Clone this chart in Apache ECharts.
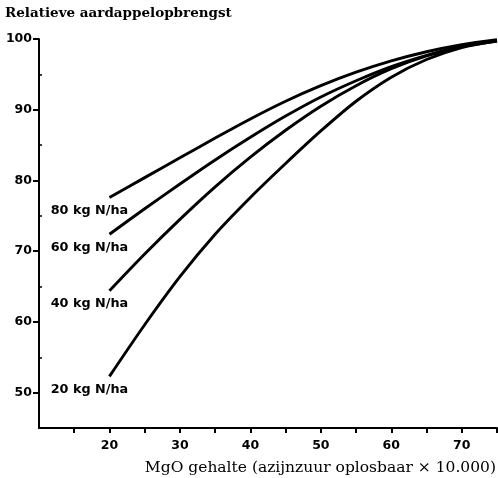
<!DOCTYPE html>
<html>
<head>
<meta charset="utf-8">
<script src="https://cdn.jsdelivr.net/npm/echarts@6/dist/echarts.min.js"></script>
<style>
html,body{margin:0;padding:0;background:#fff;}
#chart{width:498px;height:478px;}
</style>
</head>
<body>
<div id="chart"></div>
<script>
var titleText = 'Relatieve aardappelopbrengst';
var xAxisTitle = 'MgO gehalte (azijnzuur oplosbaar \u00d7 10.000)';
var xs = [20, 25, 30, 35, 40, 45, 50, 55, 60, 65, 70, 75];
var n80 = [77.6, 80.4, 83.2, 86.0, 88.7, 91.2, 93.4, 95.3, 96.9, 98.2, 99.2, 99.9];
var n60 = [72.4, 76.0, 79.5, 82.9, 86.1, 89.1, 91.8, 94.1, 96.1, 97.7, 99.0, 99.8];
var n40 = [64.4, 69.6, 74.5, 79.1, 83.3, 87.1, 90.5, 93.4, 95.8, 97.6, 98.9, 99.7];
var n20 = [52.3, 59.6, 66.4, 72.4, 77.6, 82.4, 87.0, 91.2, 94.6, 97.1, 98.8, 99.7];
var seriesNames = ['80 kg N/ha', '60 kg N/ha', '40 kg N/ha', '20 kg N/ha'];
var seriesValues = [n80, n60, n40, n20];
var yMajorTicks = [50, 60, 70, 80, 90, 100];
var yMinorTicks = [55, 65, 75, 85, 95];
var xTicks = [15, 20, 25, 30, 35, 40, 45, 50, 55, 60, 65, 70, 75];
var xTickLabels = [20, 30, 40, 50, 60, 70];

var labelFont = 'DejaVu Sans';
var chart = echarts.init(document.getElementById('chart'), null, {renderer: 'canvas'});

var series = seriesNames.map(function (name, i) {
  var vals = seriesValues[i];
  return {
    type: 'line',
    name: name,
    data: xs.map(function (x, j) { return [x, vals[j]]; }),
    smooth: 0.3,
    showSymbol: false,
    symbol: 'none',
    yAxisIndex: 0,
    lineStyle: {color: '#000', width: 2.9},
    silent: true,
    animation: false,
    markPoint: {
      symbol: 'circle',
      symbolSize: 2,
      itemStyle: {color: 'rgba(0,0,0,0)'},
      silent: true,
      animation: false,
      label: {
        show: true,
        position: 'inside',
        offset: [-20, 13],
        formatter: name,
        color: '#000',
        fontFamily: labelFont,
        fontWeight: 'bold',
        fontSize: 12.8
      },
      data: [{coord: [xs[0], vals[0]]}]
    }
  };
});

var option = {
  backgroundColor: '#fff',
  animation: false,
  title: [
    {text: titleText, left: 5, top: 6, padding: 0,
     textStyle: {fontFamily: 'DejaVu Serif', fontWeight: 'bold', fontSize: 13.5, color: '#000'}},
    {text: xAxisTitle, right: 2, top: 460, padding: 0,
     textStyle: {fontFamily: 'DejaVu Serif', fontWeight: 'normal', fontSize: 15.5, color: '#000'}}
  ],
  grid: {left: 39, right: 1, top: 39, bottom: 50, containLabel: false},
  xAxis: {
    type: 'value', min: 10, max: 75, interval: 5,
    axisLine: {show: true, lineStyle: {color: '#000', width: 2}},
    axisTick: {show: true, customValues: xTicks, length: 5, inside: false, lineStyle: {color: '#000', width: 2}},
    axisLabel: {show: true, customValues: xTickLabels, margin: 11, color: '#000',
                fontFamily: labelFont, fontWeight: 'bold', fontSize: 12.5},
    splitLine: {show: false}
  },
  yAxis: [
    {
      type: 'value', min: 45, max: 100, position: 'left',
      axisLine: {show: true, onZero: false, lineStyle: {color: '#000', width: 2}},
      axisTick: {show: true, customValues: yMajorTicks, length: 6, inside: false, lineStyle: {color: '#000', width: 2}},
      axisLabel: {show: true, customValues: yMajorTicks, margin: 7, color: '#000',
                  fontFamily: labelFont, fontWeight: 'bold', fontSize: 12.5},
      splitLine: {show: false}
    },
    {
      type: 'value', min: 45, max: 100, position: 'left', offset: 0,
      axisLine: {show: false},
      axisTick: {show: true, customValues: yMinorTicks, length: 3, inside: true, lineStyle: {color: '#000', width: 1.5}},
      axisLabel: {show: false},
      splitLine: {show: false}
    }
  ],
  series: series
};
chart.setOption(option);
</script>
</body>
</html>
